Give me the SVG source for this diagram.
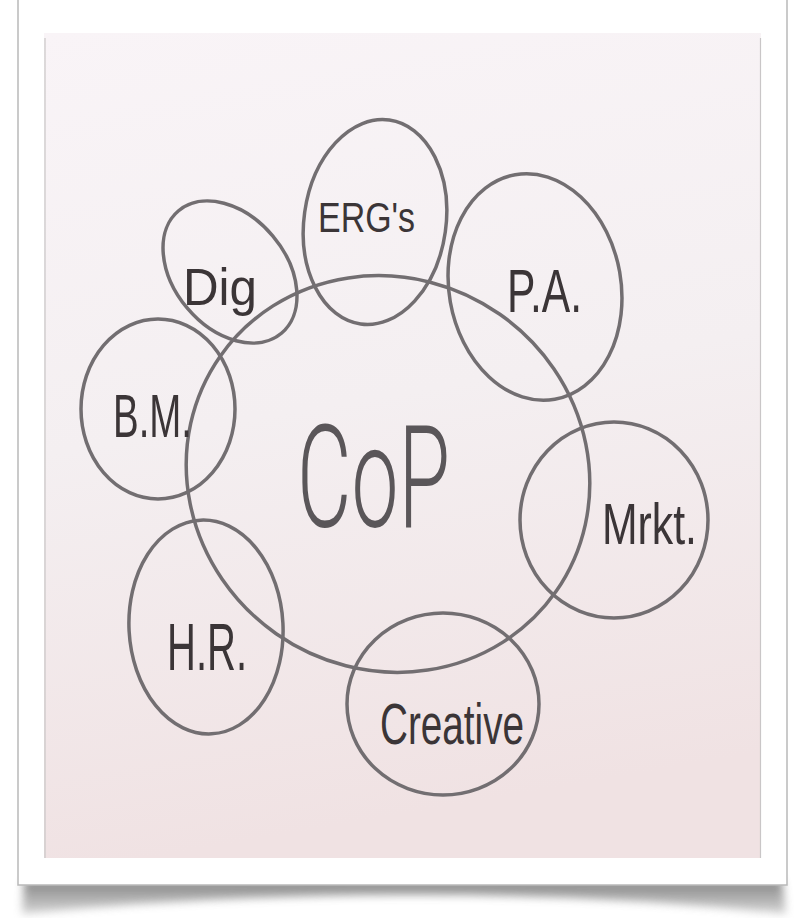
<svg xmlns="http://www.w3.org/2000/svg" width="794" height="918" viewBox="0 0 794 918">
  <defs>
    <linearGradient id="board" x1="0" y1="0" x2="0.15" y2="1">
      <stop offset="0" stop-color="#f9f4f7"/>
      <stop offset="0.5" stop-color="#f4eff1"/>
      <stop offset="1" stop-color="#f0e2e3"/>
    </linearGradient>
    <linearGradient id="shade" x1="0" y1="0" x2="0" y2="1">
      <stop offset="0" stop-color="#6e6e6e"/>
      <stop offset="1" stop-color="#cfcfcf"/>
    </linearGradient>
    <filter id="blur" x="-10%" y="-50%" width="120%" height="200%">
      <feGaussianBlur stdDeviation="4"/>
    </filter>
    <style>
      .ring { fill: none; stroke: #726e71; stroke-width: 3.5; }
      .lbl { font-family: "Liberation Sans", "DejaVu Sans", sans-serif; fill: #3b3537; }
      .big { font-family: "Roboto", "Lato", "Liberation Sans", sans-serif; font-weight: 300; fill: #5a5659; }
    </style>
  </defs>

  <rect x="0" y="0" width="794" height="918" fill="#ffffff"/>

  <!-- card shadow -->
  <path d="M24,880 L782,880 L786,914 Q600,894 400,895 Q200,896 22,914 Z" fill="url(#shade)" opacity="0.85" filter="url(#blur)"/>
  <!-- card -->
  <rect x="18" y="-10" width="769" height="895" fill="#ffffff" stroke="#b9b9b9" stroke-width="1.5"/>
  <!-- photo -->
  <rect x="44" y="33" width="717" height="825" fill="url(#board)"/>
  <line x1="45" y1="38" x2="45" y2="858" stroke="#c9c6c7" stroke-width="1.2"/>
  <line x1="760.5" y1="38" x2="760.5" y2="858" stroke="#c9c6c7" stroke-width="1.2"/>

  <g id="cop">
    <ellipse class="ring" cx="388" cy="474" rx="205" ry="195" transform="rotate(35 388 474)"/>
    <text class="big" x="297" y="527" font-size="142" textLength="153" lengthAdjust="spacingAndGlyphs">CoP</text>
  </g>
  <g id="dig">
    <ellipse class="ring" cx="230" cy="272" rx="80" ry="56" transform="rotate(50 230 272)"/>
    <text class="lbl" x="183" y="305" font-size="52" textLength="74" lengthAdjust="spacingAndGlyphs">Dig</text>
  </g>
  <g id="ergs">
    <ellipse class="ring" cx="375" cy="222" rx="71" ry="103" transform="rotate(8 375 222)"/>
    <text class="lbl" x="318" y="232" font-size="42" textLength="97" lengthAdjust="spacingAndGlyphs">ERG's</text>
  </g>
  <g id="pa">
    <ellipse class="ring" cx="535" cy="287" rx="86" ry="114" transform="rotate(-10 535 287)"/>
    <text class="lbl" x="507" y="312" font-size="62" textLength="75" lengthAdjust="spacingAndGlyphs">P.A.</text>
  </g>
  <g id="bm">
    <ellipse class="ring" cx="158" cy="409" rx="77" ry="90"/>
    <text class="lbl" x="113" y="437" font-size="62" textLength="79" lengthAdjust="spacingAndGlyphs">B.M.</text>
  </g>
  <g id="mrkt">
    <ellipse class="ring" cx="614" cy="520" rx="94" ry="98"/>
    <text class="lbl" x="602" y="544" font-size="58" textLength="95" lengthAdjust="spacingAndGlyphs">Mrkt.</text>
  </g>
  <g id="hr">
    <ellipse class="ring" cx="206" cy="627" rx="77" ry="107" transform="rotate(-3 206 627)"/>
    <text class="lbl" x="167" y="670" font-size="66" textLength="80" lengthAdjust="spacingAndGlyphs">H.R.</text>
  </g>
  <g id="creative">
    <ellipse class="ring" cx="443" cy="704" rx="96" ry="91"/>
    <text class="lbl" x="380" y="744" font-size="58" textLength="144" lengthAdjust="spacingAndGlyphs">Creative</text>
  </g>
</svg>
